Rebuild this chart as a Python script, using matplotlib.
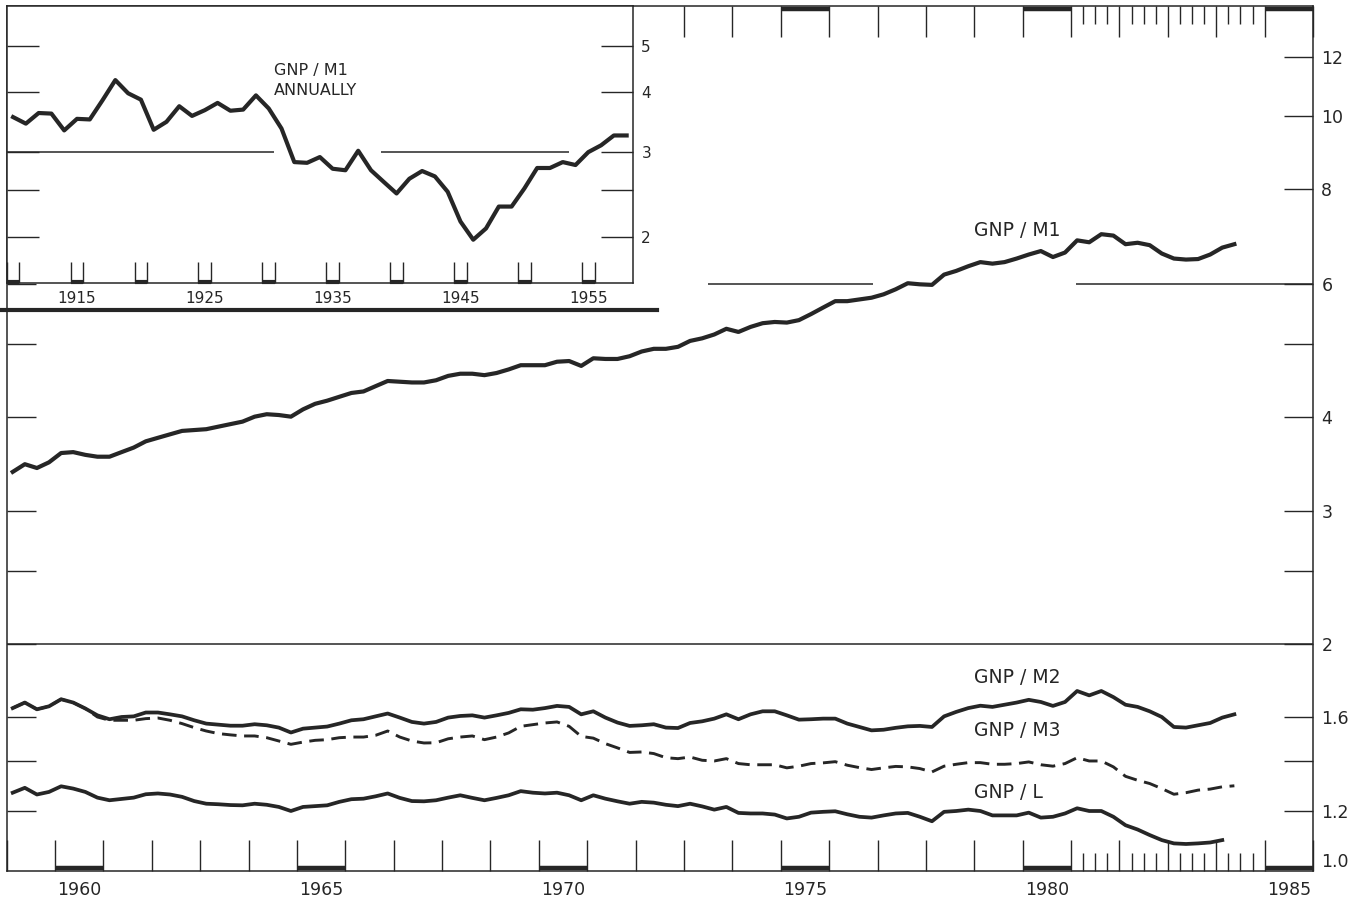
import numpy as np
import matplotlib
matplotlib.use('Agg')
import matplotlib.pyplot as plt
from matplotlib.ticker import FixedLocator, FixedFormatter, NullLocator
from matplotlib.lines import Line2D

plt.rcParams['font.family'] = ['DejaVu Sans']

INK = '#262626'

# quarterly ratios, 1959Q1 onwards
gnp_m1 = [3.38, 3.46, 3.42, 3.48, 3.58, 3.59, 3.56, 3.54, 3.54, 3.59,
          3.64, 3.71, 3.75, 3.79, 3.83, 3.84, 3.85, 3.88, 3.91, 3.94,
          4.00, 4.03, 4.02, 4.00, 4.09, 4.16, 4.20, 4.25, 4.30, 4.32,
          4.39, 4.46, 4.45, 4.44, 4.44, 4.47, 4.53, 4.56, 4.56, 4.54,
          4.57, 4.62, 4.68, 4.68, 4.68, 4.73, 4.74, 4.67, 4.78, 4.77,
          4.77, 4.81, 4.88, 4.92, 4.92, 4.95, 5.04, 5.08, 5.14, 5.23,
          5.18, 5.26, 5.32, 5.34, 5.33, 5.37, 5.47, 5.58, 5.69, 5.69,
          5.72, 5.75, 5.81, 5.90, 6.01, 5.99, 5.98, 6.17, 6.24, 6.33,
          6.41, 6.38, 6.41, 6.48, 6.56, 6.63, 6.51, 6.60, 6.85, 6.81,
          6.98, 6.95, 6.77, 6.80, 6.75, 6.58, 6.48, 6.46, 6.47, 6.56,
          6.70, 6.77]

gnp_m2 = [1.644, 1.672, 1.638, 1.653, 1.689, 1.672, 1.642, 1.608, 1.589, 1.600,
          1.603, 1.622, 1.622, 1.613, 1.603, 1.584, 1.568, 1.563, 1.558, 1.558,
          1.565, 1.560, 1.549, 1.526, 1.544, 1.549, 1.554, 1.568, 1.584, 1.589,
          1.603, 1.617, 1.597, 1.576, 1.568, 1.576, 1.597, 1.605, 1.608, 1.597,
          1.608, 1.620, 1.638, 1.636, 1.644, 1.655, 1.650, 1.613, 1.628, 1.597,
          1.573, 1.557, 1.560, 1.565, 1.549, 1.547, 1.571, 1.579, 1.592, 1.613,
          1.589, 1.613, 1.628, 1.628, 1.608, 1.587, 1.589, 1.592, 1.592, 1.568,
          1.552, 1.536, 1.539, 1.548, 1.555, 1.557, 1.552, 1.603, 1.625, 1.644,
          1.656, 1.650, 1.661, 1.672, 1.686, 1.675, 1.655, 1.675, 1.732, 1.709,
          1.732, 1.700, 1.661, 1.650, 1.628, 1.600, 1.552, 1.549, 1.560, 1.571,
          1.597, 1.613]

gnp_m3 = [1.644, 1.672, 1.638, 1.653, 1.689, 1.672, 1.642, 1.600, 1.584, 1.584,
          1.584, 1.592, 1.595, 1.584, 1.568, 1.549, 1.533, 1.521, 1.515, 1.510,
          1.510, 1.502, 1.487, 1.472, 1.482, 1.490, 1.493, 1.502, 1.505, 1.505,
          1.513, 1.533, 1.505, 1.487, 1.478, 1.479, 1.497, 1.505, 1.510, 1.493,
          1.505, 1.524, 1.555, 1.563, 1.571, 1.576, 1.555, 1.508, 1.500, 1.475,
          1.456, 1.436, 1.438, 1.431, 1.413, 1.409, 1.416, 1.402, 1.399, 1.409,
          1.388, 1.383, 1.383, 1.383, 1.370, 1.377, 1.388, 1.391, 1.396, 1.381,
          1.371, 1.363, 1.370, 1.376, 1.374, 1.367, 1.353, 1.377, 1.385, 1.392,
          1.392, 1.385, 1.385, 1.388, 1.395, 1.383, 1.377, 1.388, 1.413, 1.399,
          1.399, 1.374, 1.335, 1.319, 1.306, 1.286, 1.264, 1.270, 1.280, 1.284,
          1.293, 1.297]

gnp_l = [1.270, 1.289, 1.263, 1.273, 1.295, 1.286, 1.273, 1.251, 1.241, 1.246,
         1.251, 1.264, 1.267, 1.263, 1.254, 1.238, 1.228, 1.226, 1.223, 1.222,
         1.228, 1.224, 1.216, 1.201, 1.216, 1.219, 1.222, 1.235, 1.245, 1.247,
         1.256, 1.267, 1.250, 1.238, 1.237, 1.241, 1.251, 1.260, 1.250, 1.241,
         1.250, 1.260, 1.276, 1.270, 1.267, 1.270, 1.260, 1.241, 1.260, 1.247,
         1.237, 1.228, 1.235, 1.232, 1.224, 1.219, 1.228, 1.218, 1.206, 1.216,
         1.194, 1.192, 1.192, 1.188, 1.174, 1.180, 1.195, 1.198, 1.200, 1.189,
         1.180, 1.177, 1.185, 1.192, 1.194, 1.180, 1.164, 1.198, 1.201, 1.206,
         1.201, 1.185, 1.185, 1.185, 1.195, 1.177, 1.180, 1.192, 1.211, 1.201,
         1.201, 1.180, 1.150, 1.135, 1.116, 1.099, 1.088, 1.086, 1.088, 1.091,
         1.099]

# annual GNP/M1, 1910-1958 (inset)
annual_years = list(range(1910, 1959))
annual_m1 = [3.55, 3.44, 3.62, 3.61, 3.33, 3.52, 3.51, 3.85, 4.24, 3.98,
             3.86, 3.34, 3.47, 3.74, 3.57, 3.67, 3.80, 3.66, 3.68, 3.94,
             3.70, 3.36, 2.86, 2.85, 2.93, 2.77, 2.75, 3.02, 2.75, 2.60,
             2.46, 2.64, 2.74, 2.67, 2.48, 2.15, 1.97, 2.08, 2.31, 2.31,
             2.52, 2.78, 2.78, 2.86, 2.82, 3.00, 3.10, 3.25, 3.25]

y_ticks = [1.2, 1.4, 1.6, 2, 2.5, 3, 4, 5, 6, 8, 10, 12]
y_ticklabels = ['1.2', '', '1.6', '2', '', '3', '4', '', '6', '8', '10', '12']
x_labels = [1960, 1965, 1970, 1975, 1980, 1985]
inset_yticks = [2, 2.5, 3, 4, 5]
inset_yticklabels = ['2', '', '3', '4', '5']
inset_labels = [1915, 1925, 1935, 1945, 1955]


def quarter_dates(values):
    return 1959 + (np.arange(len(values)) + 0.5) / 4


fig = plt.figure(figsize=(13.64, 9.06), dpi=100)
ax = fig.add_axes([0.0049, 0.0386, 0.9577, 0.9547])

ax.plot(quarter_dates(gnp_m1), gnp_m1, color=INK, lw=3.0, solid_joinstyle='round')
ax.plot(quarter_dates(gnp_m2), gnp_m2, color=INK, lw=2.7, solid_joinstyle='round')
ax.plot(quarter_dates(gnp_m3), gnp_m3, color=INK, lw=2.1, dashes=(5, 2.6))
ax.plot(quarter_dates(gnp_l), gnp_l, color=INK, lw=2.7, solid_joinstyle='round')

ax.set_yscale('log')
ax.set_ylim(1.0, 14.0)
ax.set_xlim(1959, 1986)

ax.yaxis.set_major_locator(FixedLocator(y_ticks))
ax.yaxis.set_major_formatter(FixedFormatter(y_ticklabels))
ax.yaxis.set_minor_locator(NullLocator())
ax.tick_params(axis='y', which='major', direction='in', left=True, right=True,
               labelleft=False, labelright=True, length=21, width=1.0,
               pad=6, labelsize=12.5, colors=INK)
ax.annotate('1.0', xy=(1, 1.0), xycoords=('axes fraction', 'data'),
            xytext=(6, 6.5), textcoords='offset points', ha='left', va='center',
            fontsize=12.5, color=INK)

ax.xaxis.set_major_locator(FixedLocator(range(1959, 1987)))
ax.xaxis.set_minor_locator(FixedLocator([y + q / 4 for y in range(1981, 1985) for q in (1, 2, 3)]))
ax.tick_params(axis='x', which='major', direction='in', top=True, bottom=True,
               length=22, width=1.0, labelbottom=False, colors=INK)
ax.tick_params(axis='x', which='minor', direction='in', top=True, bottom=True,
               length=13, width=1.0, colors=INK)
# the 1972 top tick would sit on the inset's right edge
ax.xaxis.get_major_ticks()[13].tick2line.set_visible(False)

for yr in x_labels:
    ax.annotate(str(yr), xy=(yr + 0.5, 0), xycoords=ax.get_xaxis_transform(),
                xytext=(0, -14), textcoords='offset points', ha='center', va='center',
                fontsize=12.5, color=INK)
    ax.plot([yr, yr + 1], [0.003, 0.003], transform=ax.get_xaxis_transform(),
            color=INK, lw=3.2, solid_capstyle='butt', clip_on=False)
    ax.plot([yr, yr + 1], [0.997, 0.997], transform=ax.get_xaxis_transform(),
            color=INK, lw=3.2, solid_capstyle='butt', clip_on=False)

for s in ax.spines.values():
    s.set_linewidth(1.1)
    s.set_color(INK)

# panel divider and broken grid line at 6
ax.axhline(2, color=INK, lw=1.1)
ax.hlines(6, 1973.5, 1976.9, color=INK, lw=1.1)
ax.hlines(6, 1981.1, 1986, color=INK, lw=1.1)

lab = dict(fontsize=13.5, color=INK, ha='left', va='center')
ax.text(1979.0, 7.05, 'GNP / M1', **lab)
ax.text(1979.0, 1.806, 'GNP / M2', **lab)
ax.text(1979.0, 1.537, 'GNP / M3', **lab)
ax.text(1979.0, 1.272, 'GNP / L', **lab)

# inset: annual data
axi = fig.add_axes([0.0049, 0.6876, 0.4592, 0.3057], facecolor='white')
axi.plot(np.array(annual_years) + 0.5, annual_m1, color=INK, lw=3.0, solid_joinstyle='round')
axi.set_yscale('log')
axi.set_ylim(1.6, 6.05)
axi.set_xlim(1910, 1959)
axi.yaxis.set_major_locator(FixedLocator(inset_yticks))
axi.yaxis.set_major_formatter(FixedFormatter(inset_yticklabels))
axi.yaxis.set_minor_locator(NullLocator())
axi.tick_params(axis='y', which='major', direction='in', left=True, right=True,
                labelleft=False, labelright=True, length=23, width=1.0,
                pad=6, labelsize=11, colors=INK)
axi.xaxis.set_major_locator(FixedLocator([y + d for y in range(1910, 1960, 5) for d in (0, 1)]))
axi.xaxis.set_minor_locator(NullLocator())
axi.tick_params(axis='x', which='major', direction='in', bottom=True, top=False,
                length=15, width=1.0, labelbottom=False, colors=INK)
for yr in range(1910, 1960, 5):
    axi.plot([yr, yr + 1], [0.004, 0.004], transform=axi.get_xaxis_transform(),
             color=INK, lw=3.0, solid_capstyle='butt', clip_on=False)
for yr in inset_labels:
    axi.annotate(str(yr), xy=(yr + 0.5, 0), xycoords=axi.get_xaxis_transform(),
                 xytext=(0, -11), textcoords='offset points', ha='center', va='center',
                 fontsize=11, color=INK)
for s in axi.spines.values():
    s.set_linewidth(1.1)
    s.set_color(INK)

axi.hlines(3, 1910, 1930.9, color=INK, lw=1.1)
axi.hlines(3, 1939.3, 1954.0, color=INK, lw=1.1)
axi.text(1930.9, 4.43, 'GNP / M1', fontsize=11.5, color=INK, ha='left', va='center')
axi.text(1930.9, 4.03, 'ANNUALLY', fontsize=11.5, color=INK, ha='left', va='center')

# heavy rule under the inset
fig.add_artist(Line2D([0, 657 / 1364], [0.6578, 0.6578], lw=3.0, color=INK))

fig.savefig('out.png', dpi=100, facecolor='white')
